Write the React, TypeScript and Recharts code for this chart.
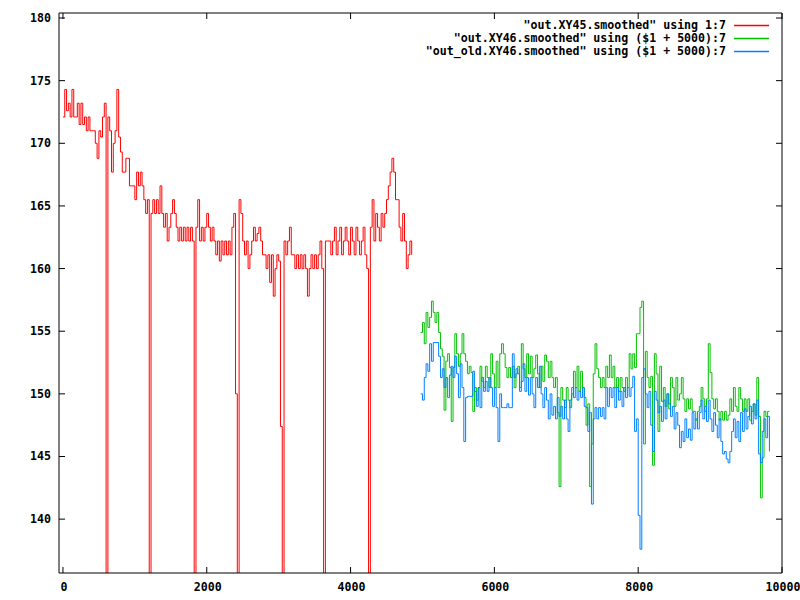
import React from 'react';
import { LineChart, Line, XAxis, YAxis } from 'recharts';

const RED_START = 0;
const GB_START = 4975;
const STEP = 25;

const redValues = [
  172.1, 174.3, 172.6, 173.2, 172.1, 174.3, 172.1, 172.1, 173.2, 171.5,
  173.2, 171.5, 172.1, 171.0, 172.1, 171.0, 171.0, 171.0, 170.0, 168.8,
  171.0, 170.5, 172.1, 173.2, 120, 172.1, 171.0, 167.7, 170.0, 171.0,
  174.3, 170.5, 169.3, 167.7, 167.7, 168.8, 168.8, 166.6, 166.6, 166.6,
  165.5, 167.7, 166.6, 167.7, 166.6, 165.5, 164.4, 165.5, 120, 164.4,
  165.5, 164.4, 165.5, 164.4, 166.6, 164.4, 163.3, 164.4, 162.2, 163.3,
  164.4, 165.5, 164.4, 163.3, 162.2, 163.3, 162.2, 163.3, 162.2, 163.3,
  162.2, 163.3, 162.2, 120, 163.3, 165.5, 162.2, 163.3, 162.2, 163.3,
  164.4, 163.3, 162.2, 163.3, 162.2, 161.1, 162.2, 160.6, 162.2, 161.1,
  162.2, 161.1, 162.2, 161.1, 163.3, 164.4, 150.0, 120, 165.5, 164.4,
  162.2, 161.1, 162.2, 160.0, 161.1, 162.2, 163.3, 162.2, 162.8, 163.3,
  162.2, 161.1, 161.1, 160.0, 161.1, 158.9, 161.1, 157.8, 160.0, 161.1,
  160.6, 147.4, 120, 162.2, 161.1, 162.2, 163.3, 161.1, 161.1, 160.0,
  161.1, 160.0, 161.1, 160.0, 161.1, 160.0, 157.8, 160.0, 161.1, 160.0,
  161.1, 160.0, 161.1, 162.2, 160.0, 120, 162.2, 162.2, 162.2, 161.1,
  162.2, 163.3, 161.1, 162.2, 163.3, 161.1, 162.2, 163.3, 162.2, 161.1,
  163.3, 162.2, 161.1, 163.3, 162.2, 161.1, 162.2, 163.3, 161.1, 160.0,
  120, 163.3, 165.5, 162.2, 164.4, 163.3, 162.2, 164.4, 163.3, 164.4,
  165.5, 166.6, 167.7, 168.8, 167.7, 165.5, 165.5, 163.3, 162.2, 164.4,
  162.2, 160.0, 161.1, 162.2, 161.1,
];

const greenValues = [
  154.9, 155.7, 154.0, 156.5, 155.3, 156.1, 157.4, 156.5, 155.7, 156.5,
  154.9, 153.6, 153.0, 148.7, 152.6, 153.2, 152.1, 147.8, 152.1, 154.8,
  153.2, 152.2, 153.2, 154.8, 153.2, 152.6, 151.6, 152.2, 151.7, 148.6,
  150.5, 149.5, 150.5, 152.2, 151.0, 150.5, 152.2, 151.3, 150.5, 153.2,
  151.6, 150.5, 152.6, 150.5, 153.2, 154.0, 153.2, 152.1, 151.3, 152.1,
  151.3, 152.2, 150.5, 151.6, 152.2, 150.5, 154.0, 152.0, 151.3, 153.2,
  151.6, 153.0, 151.3, 152.0, 153.1, 151.6, 150.5, 152.2, 151.0, 153.1,
  152.6, 151.3, 152.6, 151.3, 150.5, 151.3, 148.5, 142.6, 150.5, 149.5,
  148.9, 150.5, 149.5, 148.9, 150.0, 151.8, 150.5, 152.2, 150.2, 151.8,
  150.5, 149.7, 147.5, 149.2, 142.6, 146.0, 151.6, 154.0, 152.0, 151.3,
  150.5, 151.3, 150.5, 152.2, 151.3, 153.1, 151.3, 152.2, 150.5, 151.3,
  150.2, 151.3, 150.5, 150.2, 151.3, 150.5, 153.2, 152.0, 153.2, 152.1,
  154.8, 154.8, 156.9, 157.4, 146.0, 153.4, 151.3, 150.5, 151.4, 144.3,
  153.2, 151.6, 147.0, 152.2, 149.4, 150.5, 149.0, 150.0, 148.8, 151.3,
  150.5, 149.0, 151.3, 149.5, 150.0, 151.3, 149.6, 148.6, 149.6, 148.8,
  149.6, 148.6, 148.6, 147.9, 148.6, 149.0, 150.5, 149.6, 148.6, 149.6,
  154.0, 151.7, 149.6, 148.8, 149.6, 148.6, 147.9, 148.6, 147.9, 148.6,
  147.9, 148.3, 149.6, 148.6, 150.5, 149.0, 148.6, 150.5, 149.6, 148.6,
  149.6, 148.6, 149.6, 147.9, 148.6, 149.2, 148.3, 151.3, 148.2, 141.7,
  144.9, 148.6, 148.2, 148.6, 148.6,
];

const blueValues = [
  150.0, 149.5, 151.3, 152.4, 151.8, 154.0, 152.6, 154.1, 154.1, 154.1,
  153.0, 151.3, 152.0, 150.5, 151.3, 149.7, 151.5, 152.2, 151.3, 153.0,
  151.6, 149.7, 152.4, 150.5, 146.2, 149.7, 149.8, 149.8, 149.8, 151.8,
  150.2, 149.0, 150.5, 148.9, 151.3, 150.2, 151.0, 150.2, 151.3, 150.5,
  149.0, 150.5, 148.9, 146.2, 150.0, 148.9, 148.9, 148.9, 149.2, 148.9,
  148.9, 153.2, 151.3, 152.0, 151.6, 150.2, 151.0, 152.4, 150.2, 151.3,
  149.9, 151.3, 150.0, 148.9, 151.3, 150.5, 152.2, 150.0, 148.9, 150.5,
  149.5, 148.0, 150.0, 148.3, 149.0, 148.0, 149.7, 148.2, 149.0, 148.0,
  149.5, 148.0, 147.0, 149.5, 150.5, 149.7, 150.5, 149.5, 150.2, 149.7,
  150.5, 149.0, 148.9, 147.0, 148.5, 141.2, 148.0, 148.9, 148.0, 148.9,
  148.2, 148.9, 148.0, 150.5, 149.0, 150.5, 149.7, 150.5, 148.9, 150.5,
  149.5, 150.2, 149.0, 150.5, 149.7, 150.5, 149.8, 150.5, 151.4, 147.0,
  148.0, 140.3, 137.6, 151.3, 152.0, 150.0, 148.9, 150.2, 147.5, 145.4,
  150.2, 149.5, 148.5, 149.0, 147.8, 149.5, 148.0, 150.0, 149.2, 148.2,
  149.0, 147.2, 148.5, 147.5, 145.7, 147.0, 146.2, 148.0, 146.5, 147.2,
  146.3, 148.5, 147.2, 148.0, 147.2, 148.5, 149.5, 148.0, 149.0, 147.8,
  149.5, 148.0, 147.0, 148.5, 147.5, 146.5, 148.0, 146.2, 145.2, 145.4,
  144.8, 144.5, 145.4, 147.0, 148.0, 146.5, 147.8, 146.2, 148.5, 147.0,
  148.8, 147.2, 148.2, 149.0, 147.6, 149.2, 148.0, 149.5, 145.2, 144.5,
  147.0, 148.0, 146.5, 148.2, 145.4,
];

const xTicks = [0, 2000, 4000, 6000, 8000, 10000];
const yTicks = [140, 145, 150, 155, 160, 165, 170, 175, 180];

const seriesLabels = [
  '"out.XY45.smoothed" using 1:7',
  '"out.XY46.smoothed" using ($1 + 5000):7',
  '"out_old.XY46.smoothed" using ($1 + 5000):7',
];
const seriesColors = ['#ff0000', '#00c000', '#0080ff'];

const toPoints = (start: number, vals: number[]) =>
  vals.map((v, i) => ({ x: start + i * STEP, y: v }));

const redData = toPoints(RED_START, redValues);
const greenData = toPoints(GB_START, greenValues);
const blueData = toPoints(GB_START, blueValues);

const FONT = "'DejaVu Sans Mono', 'Liberation Mono', monospace";
const TXT = { fontFamily: FONT, fontWeight: 700, fontSize: 11.6, fill: '#000' } as const;

const LeftTick = (p: any) => (
  <g>
    <line x1={p.x} y1={p.y} x2={p.x + 6} y2={p.y} stroke="#000" strokeWidth={1} />
    <text x={p.x - 8} y={p.y} textAnchor="end" dominantBaseline="central" {...TXT}>
      {p.payload.value}
    </text>
  </g>
);
const RightTick = (p: any) => (
  <line x1={p.x - 6} y1={p.y} x2={p.x} y2={p.y} stroke="#000" strokeWidth={1} />
);
const BottomTick = (p: any) => (
  <g>
    <line x1={p.x} y1={p.y} x2={p.x} y2={p.y - 6} stroke="#000" strokeWidth={1} />
    <text x={p.x + 1} y={p.y + 14} textAnchor="middle" dominantBaseline="central" {...TXT}>
      {p.payload.value}
    </text>
  </g>
);
const TopTick = (p: any) => (
  <line x1={p.x} y1={p.y} x2={p.x} y2={p.y + 6} stroke="#000" strokeWidth={1} />
);

const X_DOMAIN: [number, number] = [-55, 10000];
const Y_DOMAIN: [number, number] = [135.7, 180.4];

export default function App() {
  return (
    <div style={{ position: 'absolute', left: 0, top: 0, width: 800, height: 600, background: '#fff' }}>
      <LineChart width={800} height={600} margin={{ top: 0, right: 0, bottom: 0, left: 0 }}>
        <XAxis
          xAxisId="b"
          dataKey="x"
          type="number"
          orientation="bottom"
          height={27}
          domain={X_DOMAIN}
          ticks={xTicks}
          interval={0}
          allowDataOverflow
          tickSize={0}
          tickMargin={0}
          tick={<BottomTick />}
          axisLine={{ stroke: '#000', strokeWidth: 1 }}
        />
        <XAxis
          xAxisId="t"
          dataKey="x"
          type="number"
          orientation="top"
          height={13}
          domain={X_DOMAIN}
          ticks={xTicks}
          interval={0}
          allowDataOverflow
          tickSize={0}
          tickMargin={0}
          tick={<TopTick />}
          axisLine={{ stroke: '#000', strokeWidth: 1 }}
        />
        <YAxis
          yAxisId="l"
          type="number"
          orientation="left"
          width={59}
          domain={Y_DOMAIN}
          ticks={yTicks}
          interval={0}
          allowDataOverflow
          tickSize={0}
          tickMargin={0}
          tick={<LeftTick />}
          axisLine={{ stroke: '#000', strokeWidth: 1 }}
        />
        <YAxis
          yAxisId="r"
          type="number"
          orientation="right"
          width={18}
          domain={Y_DOMAIN}
          ticks={yTicks}
          interval={0}
          allowDataOverflow
          tickSize={0}
          tickMargin={0}
          tick={<RightTick />}
          axisLine={{ stroke: '#000', strokeWidth: 1 }}
        />
        <Line
          xAxisId="b"
          yAxisId="l"
          data={redData}
          dataKey="y"
          type="stepAfter"
          stroke={seriesColors[0]}
          strokeWidth={1}
          dot={false}
          isAnimationActive={false}
        />
        <Line
          xAxisId="b"
          yAxisId="l"
          data={greenData}
          dataKey="y"
          type="stepAfter"
          stroke={seriesColors[1]}
          strokeWidth={1}
          dot={false}
          isAnimationActive={false}
        />
        <Line
          xAxisId="b"
          yAxisId="l"
          data={blueData}
          dataKey="y"
          type="stepAfter"
          stroke={seriesColors[2]}
          strokeWidth={1}
          dot={false}
          isAnimationActive={false}
        />
      </LineChart>
      <div style={{ position: 'absolute', top: 19, left: 0, width: 769 }}>
        {seriesLabels.map((label, i) => (
          <div
            key={label}
            style={{ display: 'flex', justifyContent: 'flex-end', alignItems: 'center', height: 13 }}
          >
            <span
              style={{
                fontFamily: FONT,
                fontWeight: 700,
                fontSize: 11.6,
                color: '#000',
                whiteSpace: 'pre',
                lineHeight: '13px',
              }}
            >
              {label}
            </span>
            <svg width={43} height={13} style={{ display: 'block' }}>
              <line x1={8} x2={43} y1={6.5} y2={6.5} stroke={seriesColors[i]} strokeWidth={1.5} />
            </svg>
          </div>
        ))}
      </div>
    </div>
  );
}
